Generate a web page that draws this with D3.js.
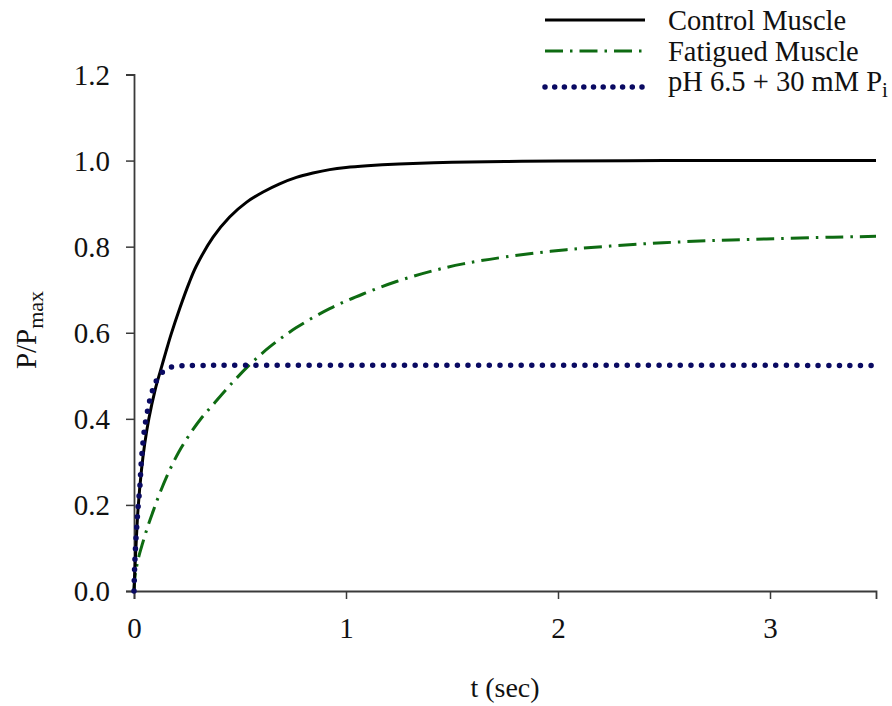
<!DOCTYPE html>
<html>
<head>
<meta charset="utf-8">
<script src="https://cdn.jsdelivr.net/npm/d3@7"></script>
<style>
  body { margin: 0; background: #fff; }
  text { font-family: "Liberation Serif", "Times New Roman", serif; fill: #111; }
</style>
</head>
<body>
<div id="chart"></div>
<script>
// values (t in sec, P/Pmax)
var controlT = [0, 0.005, 0.01, 0.019, 0.035, 0.05, 0.07, 0.1, 0.125, 0.15, 0.176, 0.216, 0.26, 0.294, 0.373, 0.451, 0.53, 0.609, 0.687, 0.766, 0.844, 0.923, 1.0, 1.1, 1.25, 1.5, 1.75, 2.0, 2.5, 3.0, 3.5];
var controlP = [0, 0.06, 0.11, 0.19, 0.28, 0.34, 0.4, 0.468, 0.512, 0.555, 0.598, 0.657, 0.716, 0.755, 0.822, 0.869, 0.903, 0.927, 0.946, 0.961, 0.971, 0.979, 0.984, 0.988, 0.992, 0.996, 0.998, 0.999, 1.0, 1.0, 1.0];

var fatiguedT = [0, 0.005, 0.01, 0.02, 0.04, 0.065, 0.09, 0.12, 0.16, 0.21, 0.26, 0.32, 0.373, 0.451, 0.546, 0.64, 0.766, 0.923, 1.08, 1.238, 1.395, 1.552, 1.75, 2.04, 2.354, 2.668, 2.983, 3.297, 3.5];
var fatiguedP = [0, 0.035, 0.05, 0.075, 0.11, 0.15, 0.185, 0.225, 0.272, 0.322, 0.362, 0.403, 0.433, 0.477, 0.526, 0.567, 0.612, 0.656, 0.69, 0.719, 0.742, 0.76, 0.776, 0.793, 0.805, 0.813, 0.818, 0.822, 0.824];

var acidT = [0, 0.003, 0.008, 0.015, 0.02, 0.028, 0.033, 0.041, 0.052, 0.069, 0.08, 0.093, 0.108, 0.127, 0.146, 0.175, 0.214, 0.3, 3.5];
var acidP = [0, 0.055, 0.11, 0.165, 0.2, 0.245, 0.29, 0.338, 0.385, 0.431, 0.454, 0.474, 0.491, 0.505, 0.512, 0.52, 0.523, 0.524, 0.524];

var xTicks = [0, 1, 2, 3];
var yTicks = [0, 0.2, 0.4, 0.6, 0.8, 1.0, 1.2];

var width = 892,
  height = 706;

var x = d3.scaleLinear().domain([0, 3.5]).range([134, 876]);
var y = d3.scaleLinear().domain([0, 1.2]).range([591, 74.5]);

var svg = d3
  .select("#chart")
  .append("svg")
  .attr("width", width)
  .attr("height", height);

function pairs(ts, ps) {
  return ts.map(function(t, i) {
    return [t, ps[i]];
  });
}

var line = d3
  .line()
  .x(function(d) { return x(d[0]); })
  .y(function(d) { return y(d[1]); })
  .curve(d3.curveCatmullRom.alpha(0.5));

// axes
var yAxis = svg
  .append("g")
  .attr("transform", "translate(" + x(0) + ",0)")
  .call(d3.axisLeft(y).tickValues(yTicks).tickSize(8).tickPadding(16).tickFormat(d3.format(".1f")));

var xAxis = svg
  .append("g")
  .attr("transform", "translate(0," + y(0) + ")")
  .call(d3.axisBottom(x).tickValues(xTicks).tickSize(8).tickPadding(18).tickFormat(d3.format("d")));

[xAxis, yAxis].forEach(function(a) {
  a.select(".domain").attr("stroke", "#3a3a3a").attr("stroke-width", 1.8);
  a.selectAll(".tick line").attr("stroke", "#3a3a3a").attr("stroke-width", 1.5);
  a.selectAll(".tick text")
    .style("font-family", '"Liberation Serif", "Times New Roman", serif')
    .style("font-size", "29px")
    .attr("fill", "#111");
});
yAxis.selectAll(".tick text").attr("dy", "0.34em");
xAxis.selectAll(".tick text").attr("dy", "0.71em");

// curves
svg
  .append("path")
  .datum(pairs(fatiguedT, fatiguedP))
  .attr("d", line)
  .attr("fill", "none")
  .attr("stroke", "#0e6b12")
  .attr("stroke-width", 3)
  .attr("stroke-dasharray", "18,7,2.5,7");

svg
  .append("path")
  .datum(pairs(controlT, controlP))
  .attr("d", line)
  .attr("fill", "none")
  .attr("stroke", "#000")
  .attr("stroke-width", 3);

svg
  .append("path")
  .datum(pairs(acidT, acidP))
  .attr("d", line)
  .attr("fill", "none")
  .attr("stroke", "#0a0a62")
  .attr("stroke-width", 5.5)
  .attr("stroke-linecap", "round")
  .attr("stroke-dasharray", "0,10.6");

// axis titles
svg
  .append("text")
  .attr("x", 505)
  .attr("y", 697)
  .attr("text-anchor", "middle")
  .style("font-size", "28px")
  .text("t (sec)");

var yl = svg
  .append("text")
  .attr("transform", "translate(36,330) rotate(-90)")
  .attr("text-anchor", "middle")
  .style("font-size", "29px");
yl.append("tspan").text("P/P");
yl.append("tspan").attr("dy", 7).style("font-size", "22px").text("max");

// legend
var legend = [
  { name: "Control Muscle", color: "#000", w: 3, dash: null, cap: "butt", ly: 20, ty: 30 },
  { name: "Fatigued Muscle", color: "#0e6b12", w: 3, dash: "18,7,2.5,7", cap: "butt", ly: 51, ty: 61 },
  { name: "pH 6.5 + 30 mM P", sub: "i", color: "#0a0a62", w: 5.5, dash: "0,9.7", cap: "round", ly: 87, ty: 91 }
];

var lg = svg.selectAll(".lg").data(legend).enter().append("g").attr("class", "lg");

lg.append("line")
  .attr("x1", 545)
  .attr("x2", 645)
  .attr("y1", function(d) { return d.ly; })
  .attr("y2", function(d) { return d.ly; })
  .attr("stroke", function(d) { return d.color; })
  .attr("stroke-width", function(d) { return d.w; })
  .attr("stroke-linecap", function(d) { return d.cap; })
  .attr("stroke-dasharray", function(d) { return d.dash; });

var lt = lg
  .append("text")
  .attr("x", 668)
  .attr("y", function(d) { return d.ty; })
  .style("font-size", "28.5px");
lt.append("tspan").text(function(d) { return d.name; });
lt.filter(function(d) { return d.sub; })
  .append("tspan")
  .attr("dy", 6)
  .style("font-size", "21px")
  .text(function(d) { return d.sub; });
</script>
</body>
</html>
